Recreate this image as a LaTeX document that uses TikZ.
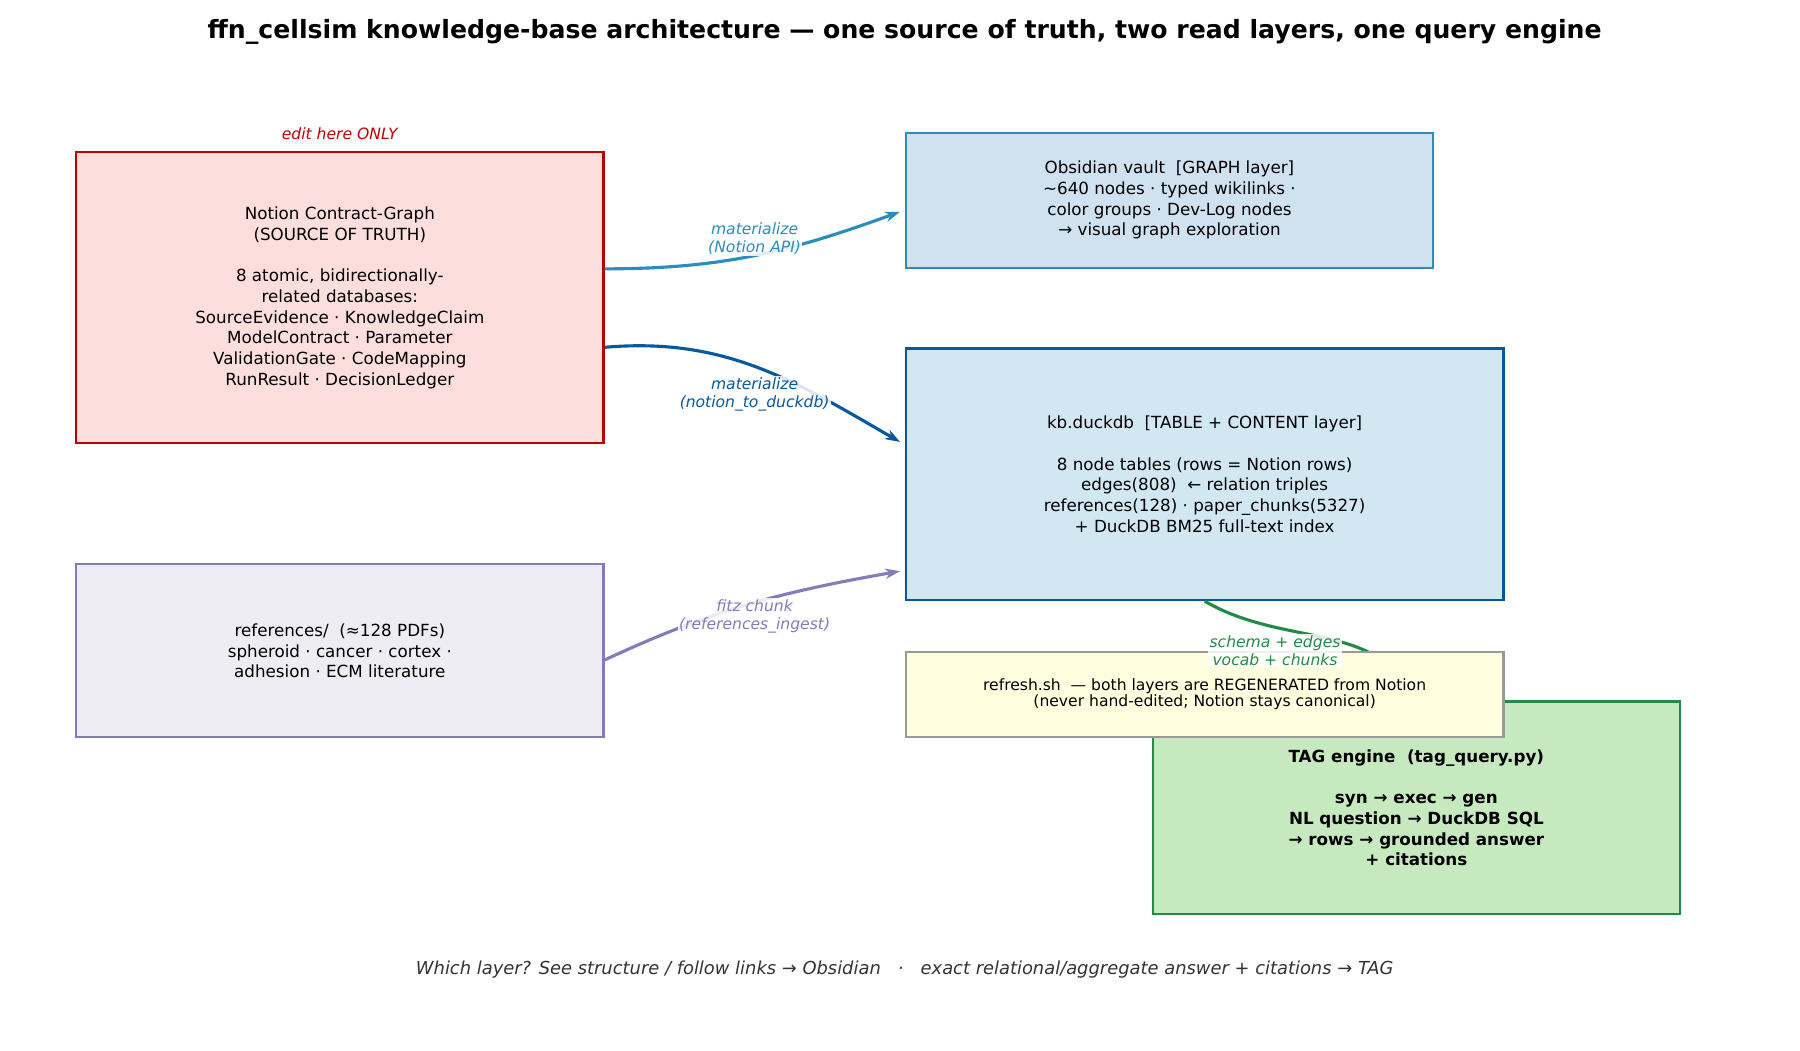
\documentclass[tikz,border=0pt]{standalone}
\usepackage{fontspec}
\setmainfont{DejaVu Sans}
\usetikzlibrary{arrows.meta,positioning}
\definecolor{srcred}{HTML}{C00000}
\definecolor{srcfill}{HTML}{FCDEDC}
\definecolor{obsblue}{HTML}{2B8CBE}
\definecolor{obsfill}{HTML}{D0E1F0}
\definecolor{kbblue}{HTML}{08589E}
\definecolor{kbfill}{HTML}{D1E8F3}
\definecolor{refpurple}{HTML}{807DBA}
\definecolor{reffill}{HTML}{EEEDF6}
\definecolor{taggreen}{HTML}{238B45}
\definecolor{tagfill}{HTML}{C7E9C0}
\definecolor{shfill}{HTML}{FFFFE0}

\begin{document}
\begin{tikzpicture}[x=1pt,y=-1pt,>={Stealth[length=13pt,width=9pt]},
		box/.style={rectangle,draw,line width=2pt,align=center,inner sep=0pt,
			font=\fontsize{14.5}{18}\selectfont},
		lbl/.style={fill=white,fill opacity=0.85,text opacity=1,inner sep=1pt,align=center,
			font=\fontsize{13.5}{16}\selectfont\itshape},
		flow/.style={->,line width=2.7pt}]
		\useasboundingbox (0,0) rectangle (1560,910);
		\node (title) at (784,28) {\fontsize{21.8}{25}\selectfont\bfseries ffn\_cellsim knowledge-base architecture --- one source of truth, two read layers, one query engine};
		
		% boxes
		\node[box,draw=srcred,fill=srcfill,minimum width=457pt,minimum height=252pt] (notion) at (294.5,258)
		{Notion Contract-Graph\\(SOURCE OF TRUTH)\\[18pt]8 atomic, bidirectionally-\\related databases:\\SourceEvidence · KnowledgeClaim\\ModelContract · Parameter\\ValidationGate · CodeMapping\\RunResult · DecisionLedger};
		\node[lbl,text=srcred,fill=none] (edit) [above=9pt of notion] {edit here ONLY};
		\node[box,draw=obsblue,fill=obsfill,minimum width=457pt,minimum height=117pt] (obsidian) at (1013.5,173.5)
		{Obsidian vault\ \ [GRAPH layer]\\{\char"7E}640 nodes · typed wikilinks ·\\color groups · Dev-Log nodes\\→ visual graph exploration};
		\node[box,draw=kbblue,fill=kbfill,minimum width=518pt,minimum height=218pt] (duckdb) at (1044,411)
		{kb.duckdb\ \ [TABLE + CONTENT layer]\\[18pt]8 node tables (rows = Notion rows)\\edges(808)\ \ ← relation triples\\references(128) · paper\_chunks(5327)\\+ DuckDB BM25 full-text index};
		\node[box,draw=refpurple,fill=reffill,minimum width=457pt,minimum height=150pt] (refs) at (294.5,564)
		{references/\ \ (≈128 PDFs)\\spheroid · cancer · cortex ·\\adhesion · ECM literature};
		\node[box,draw=taggreen,fill=tagfill,minimum width=457pt,minimum height=184pt,font=\fontsize{14.5}{18}\selectfont\bfseries] (tag) at (1227.5,700)
		{TAG engine\ \ (tag\_query.py)\\[18pt]syn → exec → gen\\NL question → DuckDB SQL\\→ rows → grounded answer\\+ citations};
		
		% flows
		\draw[flow,obsblue] ([yshift=25pt]notion.east) to[out=0,in=200] ([xshift=-4pt,yshift=-10pt]obsidian.west);
		\draw[flow,kbblue] ([yshift=-43pt]notion.east) to[out=5,in=150] ([xshift=-4pt,yshift=28pt]duckdb.west);
		\draw[flow,refpurple] ([yshift=-8pt]refs.east) to[out=25,in=190] ([xshift=-4pt,yshift=-84pt]duckdb.west);
		\draw[flow,taggreen] (duckdb.south) to[out=-30,in=120] (tag.north);
		\node[lbl,text=obsblue] (m1) at (654,207) {materialize\\(Notion API)};
		\node[lbl,text=kbblue] (m2) at (654,342) {materialize\\(notion\_to\_duckdb)};
		\node[lbl,text=refpurple] (m3) at (654,534) {fitz chunk\\(references\_ingest)};
		
		\node[box,draw=gray!80,fill=shfill,minimum width=518pt,minimum height=74pt,font=\fontsize{13.5}{14}\selectfont] (refresh) at (1044,602)
		{refresh.sh\ \ — both layers are REGENERATED from Notion\\(never hand-edited; Notion stays canonical)};
		\node[lbl,text=taggreen] (m4) at (1105,564) {schema + edges\\vocab + chunks};
		
		\node[text=black!80,font=\fontsize{15.5}{18}\selectfont\itshape] (foot) at (784,840)
		{Which layer? See structure / follow links → Obsidian\ \ \ ·\ \ \ exact relational/aggregate answer + citations → TAG};
	\end{tikzpicture}
\end{document}
